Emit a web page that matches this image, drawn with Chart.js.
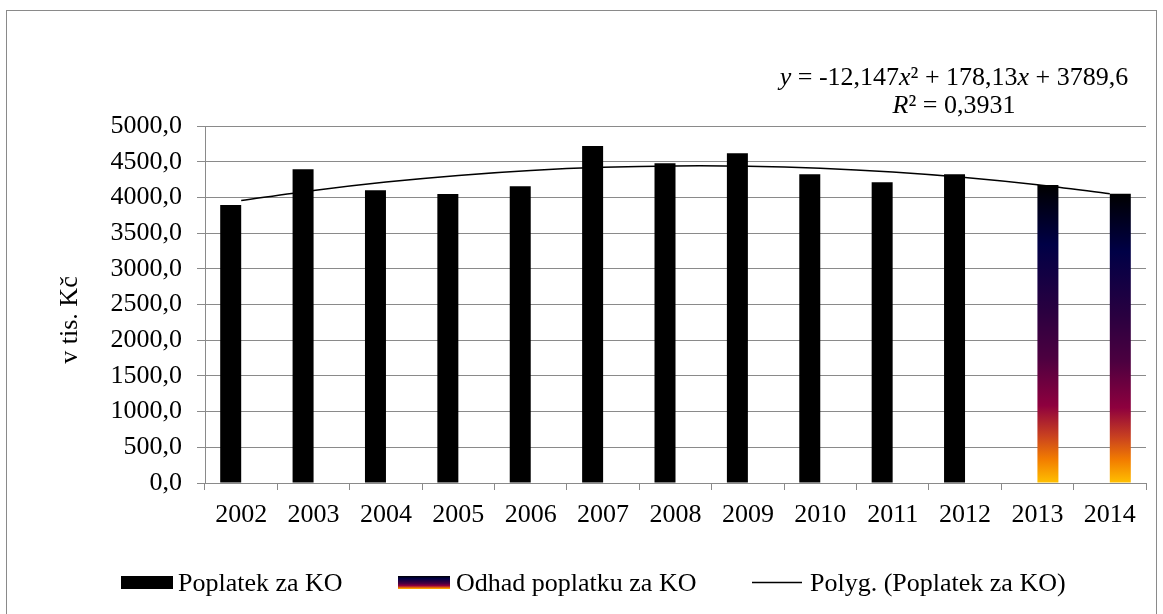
<!DOCTYPE html>
<html>
<head>
<meta charset="utf-8">
<title>Poplatek za KO</title>
<script src="https://cdn.jsdelivr.net/npm/chart.js@4.4.0/dist/chart.umd.min.js"></script>
<style>
  html, body { margin: 0; padding: 0; background: #fff; }
  #wrap { position: relative; width: 1163px; height: 614px; }
</style>
</head>
<body>
<div id="wrap"><canvas id="chart" width="1163" height="614"></canvas></div>
<script>
// data (v tis. Kč)
const years = ['2002', '2003', '2004', '2005', '2006', '2007', '2008', '2009', '2010', '2011', '2012', '2013', '2014'];
const poplatek = [3893, 4393, 4099, 4047, 4155, 4720, 4477, 4617, 4323, 4211, 4323, null, null];
const odhad = [null, null, null, null, null, null, null, null, null, null, null, 4173, 4051];
const trend = [3956, 4097, 4215, 4308, 4377, 4421, 4441, 4437, 4409, 4356, 4279, 4178, 4052];
const yMin = 0, yMax = 5000, yStep = 500;

const seriesNames = ['Poplatek za KO', 'Odhad poplatku za KO', 'Polyg. (Poplatek za KO)'];
const axisTitle = 'v tis. Kč';
const eqLine1 = [['y', true], [' = -12,147', false], ['x', true], ['² + 178,13', false], ['x', true], [' + 3789,6', false]];
const eqLine2 = [['R', true], ['² = 0,3931', false]];

const FONT = '"Liberation Serif", "Times New Roman", serif';
const GRAY = '#8a8a8a';

// fire-like gradient used for the estimate bars
function fire(ctx, top, bottom) {
  const g = ctx.createLinearGradient(0, top, 0, bottom);
  g.addColorStop(0, '#000000');
  g.addColorStop(0.2, '#000046');
  g.addColorStop(0.42, '#290040');
  g.addColorStop(0.58, '#4c0040');
  g.addColorStop(0.74, '#8e003e');
  g.addColorStop(0.84, '#c84020');
  g.addColorStop(0.92, '#f27c00');
  g.addColorStop(1, '#ffc000');
  return g;
}

function drawRich(ctx, parts, cx, baseline) {
  const fonts = parts.map(p => (p[1] ? 'italic ' : '') + '26px ' + FONT);
  let total = 0;
  const widths = parts.map((p, i) => { ctx.font = fonts[i]; const w = ctx.measureText(p[0]).width; total += w; return w; });
  let x = cx - total / 2;
  parts.forEach((p, i) => { ctx.font = fonts[i]; ctx.fillText(p[0], x, baseline); x += widths[i]; });
}

const extras = {
  id: 'extras',
  beforeDraw(chart) {
    const ctx = chart.ctx;
    ctx.save();
    ctx.fillStyle = '#fff';
    ctx.fillRect(0, 0, chart.width, chart.height);
    ctx.strokeStyle = GRAY;
    ctx.lineWidth = 1;
    ctx.strokeRect(6.5, 10.5, 1150, 640);
    ctx.restore();
  },
  afterDraw(chart) {
    const ctx = chart.ctx;
    ctx.save();
    ctx.fillStyle = '#000';
    ctx.textAlign = 'left';
    ctx.textBaseline = 'alphabetic';

    // axis title
    ctx.save();
    ctx.translate(77, 320);
    ctx.rotate(-Math.PI / 2);
    ctx.textAlign = 'center';
    ctx.font = '26px ' + FONT;
    ctx.fillText(axisTitle, 0, 0);
    ctx.restore();

    // trendline equation
    drawRich(ctx, eqLine1, 954, 85);
    drawRich(ctx, eqLine2, 954, 113);

    // legend
    ctx.font = '26px ' + FONT;
    ctx.fillStyle = '#000';
    ctx.fillRect(121, 576, 52, 13);
    ctx.fillText(seriesNames[0], 178, 591);
    ctx.fillStyle = fire(ctx, 576, 589);
    ctx.fillRect(398, 576, 52, 13);
    ctx.fillStyle = '#000';
    ctx.fillText(seriesNames[1], 456, 591);
    ctx.strokeStyle = '#000';
    ctx.lineWidth = 1.5;
    ctx.beginPath();
    ctx.moveTo(752, 582.5);
    ctx.lineTo(802, 582.5);
    ctx.stroke();
    ctx.fillText(seriesNames[2], 810, 591);
    ctx.restore();
  }
};

new Chart(document.getElementById('chart'), {
  data: {
    labels: years,
    datasets: [
      {
        type: 'line',
        label: seriesNames[2],
        data: trend,
        borderColor: '#000',
        borderWidth: 1.5,
        pointRadius: 0,
        tension: 0.3,
        order: 0
      },
      {
        type: 'bar',
        label: seriesNames[0],
        data: poplatek,
        backgroundColor: '#000',
        categoryPercentage: 0.58,
        barPercentage: 1,
        order: 1
      },
      {
        type: 'bar',
        label: seriesNames[1],
        data: odhad,
        backgroundColor: (c) => {
          const chart = c.chart;
          if (!chart.chartArea || c.raw == null) return '#000';
          const y = chart.scales.y;
          return fire(chart.ctx, y.getPixelForValue(c.raw), y.getPixelForValue(0));
        },
        categoryPercentage: 0.58,
        barPercentage: 1,
        order: 1
      }
    ]
  },
  options: {
    responsive: false,
    animation: false,
    layout: { padding: { top: 126, right: 17, bottom: 0, left: 0 } },
    plugins: { legend: { display: false }, tooltip: { enabled: false } },
    scales: {
      x: {
        grid: { offset: true, drawOnChartArea: false, tickLength: 7, color: GRAY },
        border: { color: GRAY },
        ticks: { color: '#000', font: { family: FONT, size: 26 }, padding: 10, maxRotation: 0 },
        afterFit(s) { s.height = 614 - 483; }
      },
      y: {
        min: yMin,
        max: yMax,
        grid: { color: GRAY, tickLength: 8 },
        border: { color: GRAY },
        ticks: {
          stepSize: yStep,
          color: '#000',
          font: { family: FONT, size: 26 },
          padding: 15,
          callback: v => v.toFixed(1).replace('.', ',')
        },
        afterFit(s) { s.width = 205; }
      }
    }
  },
  plugins: [extras]
});
</script>
</body>
</html>
